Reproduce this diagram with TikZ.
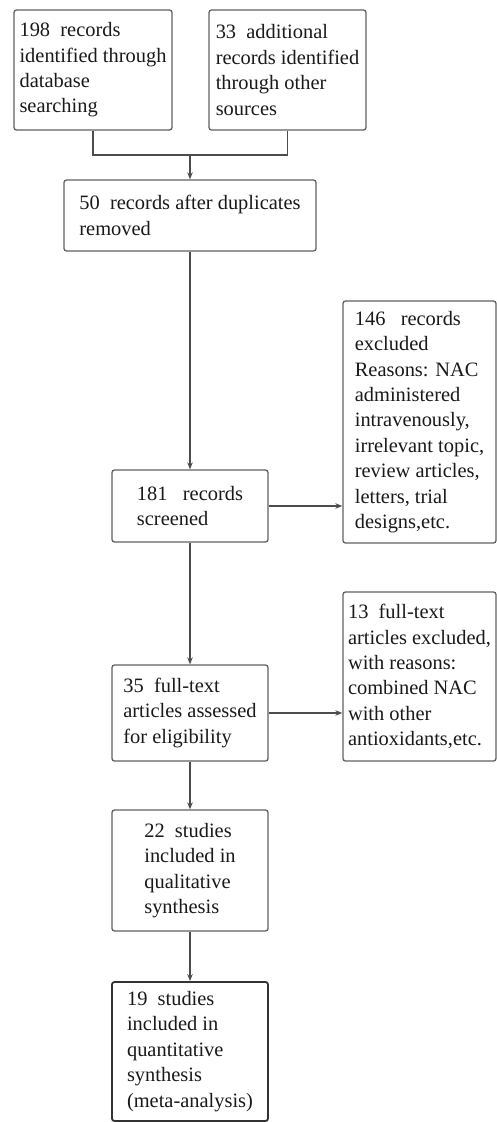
\documentclass[tikz,border=0pt]{standalone}
\usepackage{fontspec}
\setmainfont{Liberation Serif}
\usetikzlibrary{calc, positioning}
\usetikzlibrary{arrows.meta}

\begin{document}
\begin{tikzpicture}[x=1bp, y=-1bp,
  box/.style={draw=black!62, line width=1.3bp, rounded corners=2.5bp,
    align=left, inner sep=0pt, text=black!90,
    font=\fontsize{20.5}{25.5}\selectfont},
  line/.style={draw=black!70, line width=1.2bp},
  arr/.style={line, -{Stealth[length=7bp, width=5.5bp]}}]

\useasboundingbox (0,0) rectangle (497,1122);

% identification
\node[box, minimum width=158bp, minimum height=120bp] (db) at (93,70)
  {198\ \ records\\identified through\\database\\searching};
\node[box, minimum width=157bp, minimum height=120bp] (other) at (287.5,70)
  {33\ \ additional\\records identified\\through other\\sources};

\node[box, minimum width=252bp, minimum height=71bp] (dup) at (190,215.5)
  {50\ \ records after duplicates\\removed};

\coordinate (join) at (190,155);
\draw[line] (db.south) |- (join) -| (other.south);
\draw[arr] (join) -- (dup.north);

% screening
\node[box, minimum width=156bp, minimum height=72bp] (screen) at (190,506)
  {181\ \ \ records\\screened};
\node[box, minimum width=153bp, minimum height=242bp] (excl) at (419.5,422)
  {146\ \ \ records\\excluded\\Reasons: NAC\\administered\\intravenously,\\irrelevant topic,\\review articles,\\letters, trial\\designs,etc.};

\draw[arr] (dup) -- (screen);
\draw[arr] (screen) -- (screen -| excl.west);

% eligibility
\node[box, minimum width=156bp, minimum height=96bp] (full) at (190,713)
  {35\ \ full-text\\articles assessed\\for eligibility};
\node[box, minimum width=153bp, minimum height=169bp] (fullexcl) at (419.5,676.5)
  {13\ \ full-text\\articles excluded,\\with reasons:\\combined NAC\\with other\\antioxidants,etc.};

\draw[arr] (screen) -- (full);
\draw[arr] (full) -- (full -| fullexcl.west);

% included
\node[box, minimum width=156bp, minimum height=121bp] (qual) at (190,870.5)
  {22\ \ studies\\included in\\qualitative\\synthesis};
\node[box, draw=black!80, line width=1.8bp, minimum width=156bp, minimum height=139bp] (quant) at (190,1051.5)
  {19\ \ studies\\included in\\quantitative\\synthesis\\(meta-analysis)};

\draw[arr] (full) -- (qual);
\draw[arr] (qual) -- (quant);

\end{tikzpicture}
\end{document}
